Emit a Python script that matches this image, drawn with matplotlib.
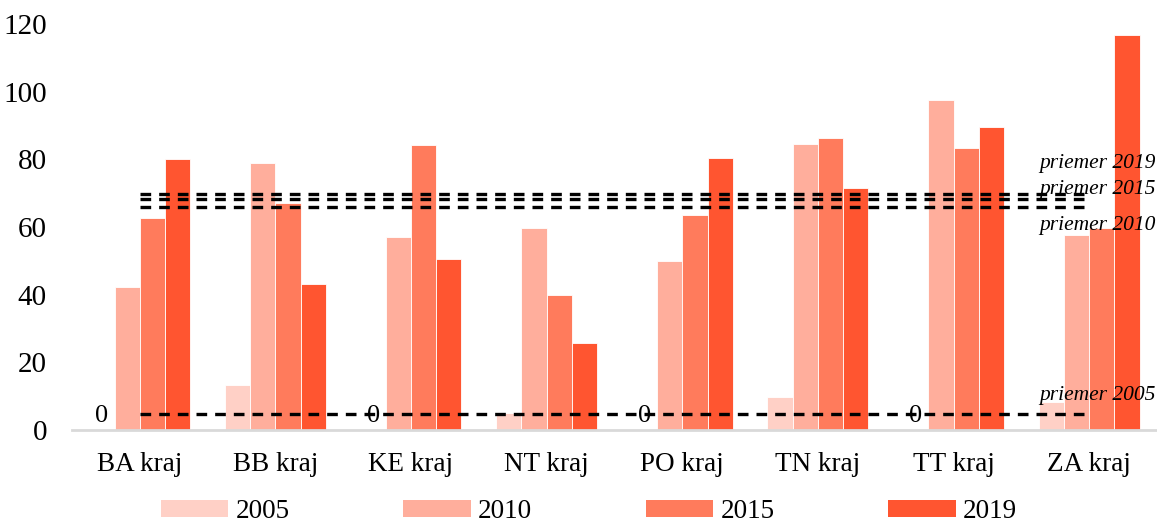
import matplotlib.pyplot as plt
import numpy as np
from matplotlib.patches import Patch

plt.rcParams['font.family'] = ['Liberation Serif', 'DejaVu Serif']

# data
regions = ['BA kraj', 'BB kraj', 'KE kraj', 'NT kraj', 'PO kraj', 'TN kraj', 'TT kraj', 'ZA kraj']
years = ['2005', '2010', '2015', '2019']
v2005 = [0, 13.3, 0, 5.0, 0, 9.7, 0, 8.4]
v2010 = [42.3, 79.1, 57.0, 59.7, 50.0, 84.5, 97.7, 57.7]
v2015 = [62.7, 67.2, 84.2, 40.0, 63.6, 86.3, 83.4, 59.6]
v2019 = [80.0, 43.1, 50.5, 25.7, 80.4, 71.6, 89.5, 116.9]
averages = [4.6, 66.0, 68.4, 69.7]
avg_labels = ['priemer 2005', 'priemer 2010', 'priemer 2015', 'priemer 2019']
avg_label_y = [10.3, 60.6, 71.2, 78.9]

colors = ['#ffd0c6', '#ffae9c', '#ff7b5c', '#ff5530']
series = [v2005, v2010, v2015, v2019]

fig = plt.figure(figsize=(11.57, 5.26), dpi=100)
ax = fig.add_axes([0.0622, 0.1825, 0.9378, 0.7715])

x = np.arange(len(regions))
w = 0.186
for i, (vals, c) in enumerate(zip(series, colors)):
    pos = x + (i - 1.5) * w
    ax.bar(pos, vals, width=w, color=c, edgecolor='#ffffff', linewidth=0.6, zorder=2)
    for p, v in zip(pos, vals):
        if v == 0:
            ax.text(p, 0.8, '0', ha='center', va='bottom', fontsize=19, zorder=4)

# average lines
for avg in averages:
    ax.plot([x[0], x[-1]], [avg, avg], color='black', linestyle=(0, (3.2, 2.4)),
            linewidth=2.4, zorder=3)
for lab, ly in zip(avg_labels, avg_label_y):
    ax.text(7.49, ly, lab, ha='right', va='center', fontsize=15.5, style='italic', zorder=4)

ax.set_xlim(-0.5, 7.5)
ax.set_ylim(0, 120)
ax.set_yticks(np.arange(0, 121, 20))
ax.set_xticks(x)
ax.set_xticklabels(regions)
ax.tick_params(axis='y', length=0, pad=18, labelsize=21)
ax.tick_params(axis='x', length=0, pad=16, labelsize=19.5)
for s in ['top', 'right', 'left']:
    ax.spines[s].set_visible(False)
ax.spines['bottom'].set_color('#d9d9d9')
ax.spines['bottom'].set_linewidth(2)
ax.spines['bottom'].set_zorder(5)

handles = [Patch(facecolor=c, edgecolor='none') for c in colors]
fig.legend(handles, years, loc='center', bbox_to_anchor=(0.509, 0.027), ncol=4,
           frameon=False, fontsize=19.5, handlelength=2.5, handleheight=0.6,
           handletextpad=0.26, columnspacing=4.2, borderaxespad=0, borderpad=0)

fig.savefig('out.png', dpi=100)
